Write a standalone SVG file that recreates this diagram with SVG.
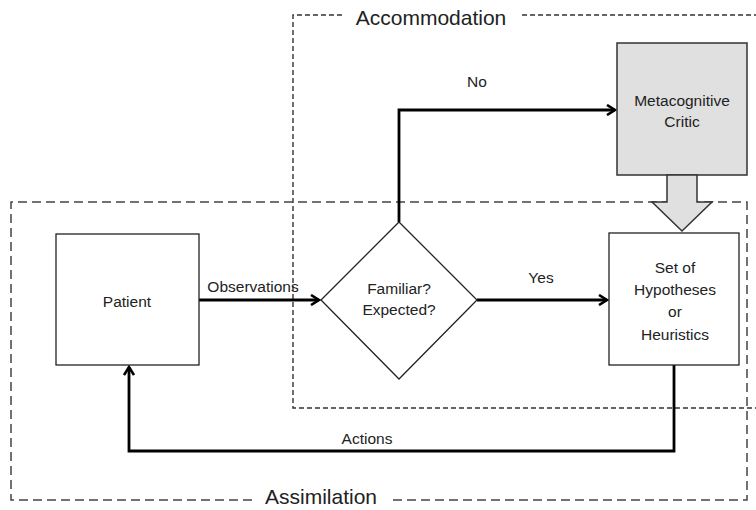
<svg xmlns="http://www.w3.org/2000/svg" width="756" height="510" viewBox="0 0 756 510">
<defs>
<style>
.t{font-family:"Liberation Sans",Arial,sans-serif;font-size:15.5px;fill:#222;text-anchor:middle}
.big{font-family:"Liberation Sans",Arial,sans-serif;font-size:21px;fill:#222;text-anchor:middle}
.box{fill:#fff;stroke:#222;stroke-width:1.3}
.grey{fill:#e0e0e0;stroke:#333;stroke-width:1.5}
.conn{fill:none;stroke:#000;stroke-width:2.8}
.accom{fill:none;stroke:#333;stroke-width:1.4;stroke-dasharray:5 3}
.assim{fill:none;stroke:#444;stroke-width:1.5;stroke-dasharray:9 5}
</style>
<marker id="arr" markerWidth="12" markerHeight="12" viewBox="0 0 12 12" refX="10" refY="6" orient="auto" markerUnits="userSpaceOnUse">
<polyline points="2,1 10,6 2,11" fill="none" stroke="#000" stroke-width="2.6"/>
</marker>
</defs>
<g id="accommodation">
<polyline class="accom" points="342,15 293,15 293,408 756,408"/>
<line class="accom" x1="522" y1="15" x2="756" y2="15"/>
<text class="big" x="431" y="25">Accommodation</text>
</g>
<g id="assimilation">
<polyline class="assim" points="252,500 11,500 11,202 747,202 747,500 392,500"/>
<text class="big" x="321" y="504">Assimilation</text>
</g>
<g id="connectors">
<line class="conn" x1="199" y1="300" x2="319" y2="300" marker-end="url(#arr)"/>
<line class="conn" x1="477" y1="300" x2="607" y2="300" marker-end="url(#arr)"/>
<polyline class="conn" points="399,222 399,110 615,110" marker-end="url(#arr)"/>
<polyline class="conn" points="674,365 674,451 129,451 129,367" marker-end="url(#arr)"/>
<text class="t" x="253" y="292">Observations</text>
<text class="t" x="541" y="283">Yes</text>
<text class="t" x="477" y="87">No</text>
<text class="t" x="367" y="444">Actions</text>
</g>
<g id="patient">
<rect class="box" x="56" y="234" width="143" height="131"/>
<text class="t" x="127" y="307">Patient</text>
</g>
<g id="decision">
<polygon class="box" points="399,222 477,300 399,379 321,300"/>
<text class="t" x="399" y="294">Familiar?</text>
<text class="t" x="399" y="315">Expected?</text>
</g>
<g id="hypotheses">
<rect class="box" x="609" y="233" width="130" height="132"/>
<text class="t" x="675" y="273">Set of</text>
<text class="t" x="675" y="295">Hypotheses</text>
<text class="t" x="675" y="317">or</text>
<text class="t" x="675" y="340">Heuristics</text>
</g>
<g id="critic">
<rect class="grey" x="617" y="43" width="130" height="132"/>
<text class="t" x="682" y="106">Metacognitive</text>
<text class="t" x="682" y="127">Critic</text>
</g>
<g id="block-arrow">
<polygon class="grey" points="667,175 697,175 697,202 712,202 682,231 652,202 667,202"/>
</g>
</svg>
